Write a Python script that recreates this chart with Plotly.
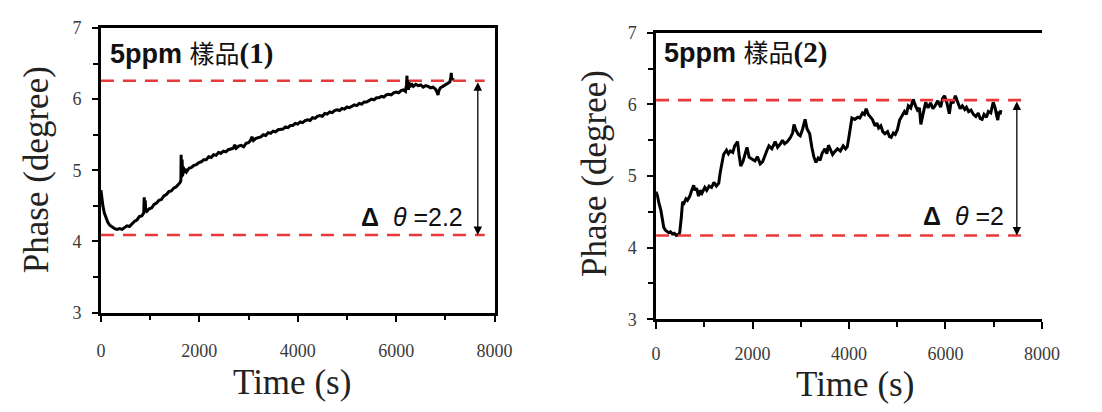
import plotly.graph_objects as go

# ---------------- data ----------------
time1 = [0, 20, 40, 70, 100, 140, 180, 230, 280, 330,
         380, 430, 480, 530, 580, 630, 680, 730, 780, 830,
         870, 880, 890, 900, 910, 930, 980, 1030, 1080, 1130,
         1180, 1230, 1280, 1330, 1380, 1430, 1480, 1530, 1580, 1610,
         1625, 1630, 1640, 1650, 1660, 1675, 1690, 1710, 1740, 1790,
         1840, 1890, 1940, 1990, 2040, 2090, 2140, 2190, 2240, 2290,
         2340, 2390, 2440, 2490, 2540, 2590, 2640, 2690, 2720, 2750,
         2800, 2850, 2900, 2950, 3000, 3040, 3070, 3100, 3150, 3200,
         3250, 3300, 3350, 3400, 3450, 3500, 3550, 3600, 3650, 3700,
         3750, 3800, 3850, 3900, 3950, 4000, 4050, 4100, 4150, 4200,
         4250, 4300, 4350, 4400, 4450, 4500, 4550, 4600, 4650, 4700,
         4750, 4800, 4850, 4900, 4950, 5000, 5050, 5100, 5150, 5200,
         5250, 5300, 5350, 5400, 5450, 5500, 5550, 5600, 5650, 5700,
         5750, 5800, 5850, 5900, 5950, 6000, 6050, 6100, 6150, 6190,
         6210, 6220, 6230, 6240, 6250, 6260, 6280, 6310, 6350, 6400,
         6450, 6500, 6550, 6600, 6650, 6700, 6750, 6800, 6830, 6850,
         6870, 6900, 6950, 7000, 7050, 7090, 7110, 7120, 7130, 7150,
         7160]
phase1 = [4.72, 4.60, 4.50, 4.40, 4.33, 4.27, 4.23, 4.20, 4.18, 4.17,
          4.18, 4.17, 4.20, 4.22, 4.21, 4.25, 4.28, 4.30, 4.35, 4.36,
          4.40, 4.62, 4.42, 4.58, 4.43, 4.42, 4.46, 4.47, 4.52, 4.54,
          4.58, 4.59, 4.64, 4.66, 4.70, 4.71, 4.75, 4.77, 4.80, 4.83,
          4.86, 5.22, 4.90, 5.15, 4.92, 5.05, 4.96, 5.02, 4.98, 5.03,
          5.04, 5.07, 5.08, 5.11, 5.12, 5.15, 5.15, 5.19, 5.18, 5.22,
          5.21, 5.25, 5.24, 5.27, 5.26, 5.29, 5.30, 5.31, 5.36, 5.31,
          5.34, 5.35, 5.33, 5.38, 5.39, 5.42, 5.47, 5.42, 5.45, 5.46,
          5.47, 5.50, 5.49, 5.53, 5.52, 5.55, 5.54, 5.57, 5.58, 5.58,
          5.61, 5.60, 5.63, 5.63, 5.66, 5.65, 5.68, 5.67, 5.70, 5.71,
          5.70, 5.74, 5.73, 5.76, 5.77, 5.76, 5.80, 5.79, 5.82, 5.81,
          5.84, 5.85, 5.84, 5.87, 5.86, 5.89, 5.88, 5.90, 5.92, 5.91,
          5.94, 5.93, 5.96, 5.96, 5.98, 6.00, 5.99, 6.02, 6.02, 6.04,
          6.03, 6.06, 6.07, 6.06, 6.09, 6.10, 6.09, 6.12, 6.13, 6.11,
          6.20, 6.33, 6.14, 6.27, 6.13, 6.24, 6.17, 6.22, 6.18, 6.21,
          6.19, 6.20, 6.17, 6.19, 6.18, 6.16, 6.17, 6.14, 6.10, 6.06,
          6.12, 6.16, 6.18, 6.20, 6.22, 6.24, 6.30, 6.37, 6.27, 6.29,
          6.27]

time2 = [0, 30, 60, 100, 130, 160, 200, 260, 300, 340,
         380, 420, 460, 490, 520, 550, 580, 620, 650, 700,
         740, 780, 810, 840, 880, 910, 950, 1010, 1050, 1100,
         1150, 1200, 1250, 1300, 1330, 1365, 1400, 1460, 1500, 1540,
         1590, 1630, 1690, 1720, 1755, 1800, 1850, 1885, 1930, 1980,
         2050, 2100, 2160, 2210, 2260, 2300, 2340, 2400, 2470, 2520,
         2580, 2620, 2665, 2720, 2780, 2830, 2860, 2900, 2950, 2990,
         3040, 3090, 3130, 3185, 3230, 3270, 3315, 3360, 3400, 3445,
         3500, 3540, 3575, 3620, 3660, 3705, 3760, 3820, 3880, 3930,
         3965, 4000, 4030, 4060, 4120, 4180, 4225, 4280, 4320, 4355,
         4400, 4440, 4485, 4540, 4580, 4615, 4660, 4700, 4745, 4800,
         4840, 4875, 4920, 4960, 5005, 5050, 5100, 5150, 5190, 5230,
         5280, 5330, 5380, 5420, 5460, 5490, 5530, 5590, 5640, 5690,
         5740, 5785, 5840, 5900, 5940, 5980, 6030, 6080, 6120, 6160,
         6205, 6250, 6305, 6350, 6400, 6435, 6480, 6530, 6580, 6630,
         6680, 6720, 6760, 6800, 6850, 6890, 6940, 6990, 7030, 7060,
         7085, 7110, 7130, 7150]
phase2 = [4.78, 4.72, 4.62, 4.52, 4.40, 4.28, 4.24, 4.21, 4.22, 4.19,
          4.20, 4.17, 4.18, 4.21, 4.40, 4.64, 4.62, 4.68, 4.66, 4.72,
          4.80, 4.87, 4.80, 4.83, 4.72, 4.80, 4.76, 4.84, 4.80, 4.86,
          4.84, 4.91, 4.86, 4.90, 5.05, 5.18, 5.30, 5.36, 5.31, 5.35,
          5.33, 5.42, 5.48, 5.30, 5.14, 5.20, 5.32, 5.40, 5.26, 5.24,
          5.21, 5.27, 5.17, 5.20, 5.30, 5.36, 5.42, 5.38, 5.48, 5.40,
          5.45, 5.50, 5.45, 5.48, 5.53, 5.60, 5.72, 5.64, 5.58, 5.56,
          5.66, 5.79, 5.66, 5.59, 5.40, 5.27, 5.19, 5.25, 5.22, 5.32,
          5.38, 5.31, 5.43, 5.36, 5.30, 5.34, 5.38, 5.35, 5.42, 5.38,
          5.41, 5.55, 5.70, 5.81, 5.79, 5.82, 5.81, 5.88, 5.86, 5.94,
          5.86, 5.82, 5.79, 5.70, 5.74, 5.67, 5.70, 5.62, 5.59, 5.62,
          5.55, 5.54, 5.60, 5.58, 5.65, 5.78, 5.85, 5.90, 5.86, 5.98,
          5.95, 6.07, 5.98, 5.92, 5.95, 5.72, 5.85, 6.03, 5.95, 6.02,
          5.94, 5.98, 6.05, 5.96, 6.08, 6.12, 6.02, 5.87, 6.05, 6.02,
          6.12, 6.04, 5.94, 5.98, 5.93, 5.96, 5.90, 5.92, 5.86, 5.83,
          5.88, 5.80, 5.79, 5.86, 5.82, 5.90, 5.88, 6.03, 5.95, 5.85,
          5.78, 5.90, 5.86, 5.92]

x_tick_vals = [0, 2000, 4000, 6000, 8000]
x_tick_text = ["0", "2000", "4000", "6000", "8000"]
y_tick_vals = [3, 4, 5, 6, 7]
y_tick_text = ["3", "4", "5", "6", "7"]

upper_lower_1 = [6.26, 4.09]
upper_lower_2 = [6.06, 4.17]
sample_labels = [
    "<b>5ppm</b> <span style='font-family:Noto Sans CJK TC;font-size:25px'>樣品</span>"
    "<b><span style='font-family:Liberation Serif;font-size:29px'>(1)</span></b>",
    "<b>5ppm</b> <span style='font-family:Noto Sans CJK TC;font-size:25px'>樣品</span>"
    "<b><span style='font-family:Liberation Serif;font-size:29px'>(2)</span></b>",
]
delta_labels = ["<b>Δ</b>  <i>θ</i> =2.2", "<b>Δ</b>  <i>θ</i> =2"]
x_title = "Time (s)"
y_title = "Phase (degree)"

# ---------------- figure ----------------
fig = go.Figure()

curve_line = dict(color="black", width=3)
dash_line = dict(color="#e8383a", width=2.6, dash="13px,9px")

fig.add_trace(go.Scatter(x=time1, y=phase1, mode="lines", line=curve_line,
                         xaxis="x", yaxis="y", showlegend=False))
fig.add_trace(go.Scatter(x=time2, y=phase2, mode="lines", line=curve_line,
                         xaxis="x2", yaxis="y2", showlegend=False))

for v in upper_lower_1:
    fig.add_trace(go.Scatter(x=[0, 7800], y=[v, v], mode="lines", line=dash_line,
                             xaxis="x", yaxis="y", showlegend=False))
for v in upper_lower_2:
    fig.add_trace(go.Scatter(x=[0, 7650], y=[v, v], mode="lines", line=dash_line,
                             xaxis="x2", yaxis="y2", showlegend=False))

tick_font = dict(family="Liberation Serif", size=18, color="#3a3a3a")


def xaxis_style(domain, anchor, mirror, standoff):
    return dict(domain=domain, anchor=anchor, range=[0, 8000],
                tickvals=x_tick_vals, ticktext=x_tick_text,
                ticks="outside", ticklen=7, tickwidth=2.2, tickcolor="black",
                minor=dict(dtick=1000, tick0=0, ticks="outside", ticklen=5,
                           tickwidth=2.2, tickcolor="black"),
                showline=True, linewidth=2.5, linecolor="black", mirror=mirror,
                showgrid=False, zeroline=False, tickfont=tick_font,
                ticklabelstandoff=standoff, fixedrange=True)


def yaxis_style(domain, anchor, mirror):
    return dict(domain=domain, anchor=anchor, range=[3, 7],
                tickvals=y_tick_vals, ticktext=y_tick_text,
                ticks="outside", ticklen=6, tickwidth=2.2, tickcolor="black",
                minor=dict(dtick=0.5, tick0=3, ticks="outside", ticklen=5,
                           tickwidth=2.2, tickcolor="black"),
                showline=True, linewidth=2.5, linecolor="black", mirror=mirror,
                showgrid=False, zeroline=False, tickfont=tick_font,
                ticklabelstandoff=7, fixedrange=True)


fig.update_layout(
    width=1102, height=412,
    margin=dict(l=0, r=0, t=0, b=0),
    paper_bgcolor="white", plot_bgcolor="white",
    xaxis=xaxis_style([0.0889, 0.4537], "y", True, 13),
    yaxis=yaxis_style([0.228, 0.954], "x", True),
    xaxis2=xaxis_style([0.6034, 0.961], "y2", True, 9),
    yaxis2=yaxis_style([0.211, 0.942], "x2", False),
)

annotations = []
# double-headed arrows
for (xa, ya, ul, xpos) in [("x", "y", upper_lower_1, 7660), ("x2", "y2", upper_lower_2, 7480)]:
    annotations.append(dict(x=xpos, y=ul[1], ax=xpos, ay=ul[0], xref=xa, yref=ya,
                            axref=xa, ayref=ya, text="", showarrow=True,
                            arrowhead=2, arrowside="end+start", arrowsize=1.3,
                            arrowwidth=1.3, arrowcolor="black"))
# delta labels
delta_font = dict(family="Liberation Sans", size=25, color="#111")
annotations.append(dict(x=7400, y=4.35, xref="x", yref="y", text=delta_labels[0],
                        showarrow=False, xanchor="right", yanchor="middle",
                        font=delta_font))
annotations.append(dict(x=7250, y=4.44, xref="x2", yref="y2", text=delta_labels[1],
                        showarrow=False, xanchor="right", yanchor="middle",
                        font=delta_font))
# sample labels
label_font = dict(family="Liberation Sans", size=27, color="#111")
annotations.append(dict(x=150, y=6.67, xref="x", yref="y", text=sample_labels[0],
                        showarrow=False, xanchor="left", yanchor="middle",
                        font=label_font))
annotations.append(dict(x=130, y=6.75, xref="x2", yref="y2", text=sample_labels[1],
                        showarrow=False, xanchor="left", yanchor="middle",
                        font=label_font))
# axis titles
title_font = dict(family="Liberation Serif", size=35, color="#222")
for (px, py) in [(293, 392), (868, 394)]:
    annotations.append(dict(x=px / 1102, y=1 - py / 412, xref="paper", yref="paper",
                            text=x_title, showarrow=False, xanchor="center",
                            yanchor="middle", font=title_font))
for (px, py) in [(33, 168), (602, 172)]:
    annotations.append(dict(x=px / 1102, y=1 - py / 412, xref="paper", yref="paper",
                            text=y_title, showarrow=False, textangle=-90,
                            xanchor="center", yanchor="middle", font=title_font))

fig.update_layout(annotations=annotations)

fig.write_html("out.html")
